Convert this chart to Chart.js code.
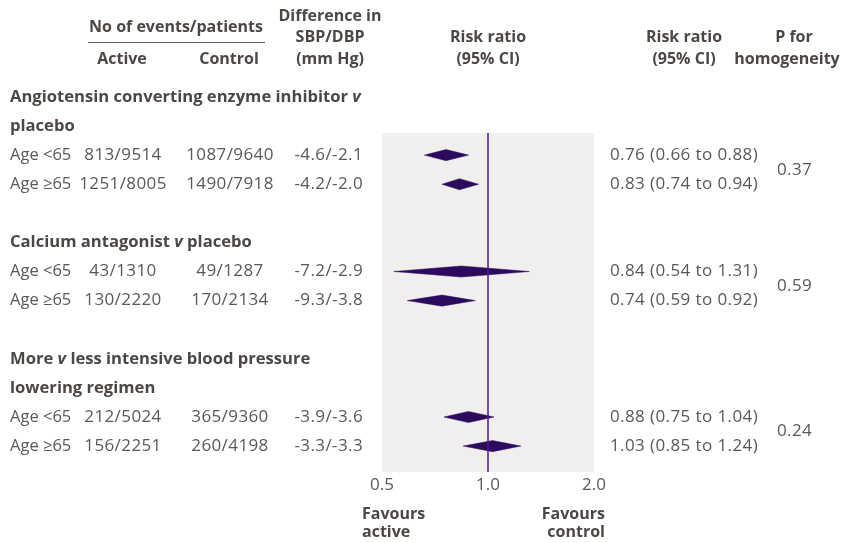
<!DOCTYPE html>
<html><head><meta charset="utf-8">
<script src="https://cdn.jsdelivr.net/npm/chart.js@4"></script>
<style>html,body{margin:0;padding:0;background:#fff}#wrap{width:849px;height:543px;position:relative}</style>
</head><body><div id="wrap"><canvas id="c" width="849" height="543"></canvas></div>
<script>
// ---------- data ----------
const groupTitles = [
  ["Angiotensin converting enzyme inhibitor v", "placebo"],
  ["Calcium antagonist v placebo"],
  ["More v less intensive blood pressure", "lowering regimen"]
];
const subgroups = ["Age <65", "Age ≥65"];
const activeEvents = ["813/9514", "1251/8005", "43/1310", "130/2220", "212/5024", "156/2251"];
const controlEvents = ["1087/9640", "1490/7918", "49/1287", "170/2134", "365/9360", "260/4198"];
const bpDiff = ["-4.6/-2.1", "-4.2/-2.0", "-7.2/-2.9", "-9.3/-3.8", "-3.9/-3.6", "-3.3/-3.3"];
const riskRatio = [0.76, 0.83, 0.84, 0.74, 0.88, 1.03];
const ciLow = [0.66, 0.74, 0.54, 0.59, 0.75, 0.85];
const ciHigh = [0.88, 0.94, 1.31, 0.92, 1.04, 1.24];
const pHomogeneity = ["0.37", "0.59", "0.24"];
const xTicks = [0.5, 1.0, 2.0];

// ---------- layout (row indices derived from group structure) ----------
const titleRows = [];
const dataRows = [];
let r = 0;
groupTitles.forEach((lines) => {
  titleRows.push(lines.map(() => r++));
  subgroups.forEach(() => dataRows.push(r++));
  r++;
});
const Y_MIN = 1.24, Y_MAX = 12.89;
const DIAMOND_HALF = 0.19; // in row units

const PURPLE = '#2c0b5e';
const LINE = '#4a1c80';
const TXT = '#5b5856';
const HEAD = '#4c4745';
const FONT = '"Open Sans", "Noto Sans", sans-serif';

const datasets = riskRatio.map((rr, i) => ({
  data: [
    {x: ciLow[i], y: dataRows[i]},
    {x: rr, y: dataRows[i] - DIAMOND_HALF},
    {x: ciHigh[i], y: dataRows[i]},
    {x: rr, y: dataRows[i] + DIAMOND_HALF},
    {x: ciLow[i], y: dataRows[i]}
  ],
  showLine: true, fill: 'shape', tension: 0,
  backgroundColor: PURPLE, borderColor: PURPLE, borderWidth: 0.5,
  pointRadius: 0, pointHoverRadius: 0, order: 2
}));
datasets.push({
  data: [{x: 1, y: Y_MIN}, {x: 1, y: Y_MAX}],
  showLine: true, fill: false, borderColor: LINE, borderWidth: 1.5,
  pointRadius: 0, pointHoverRadius: 0, order: 1
});

const bgPlugin = {
  id: 'bg',
  beforeDatasetsDraw(chart) {
    const {ctx, chartArea: a} = chart;
    ctx.save();
    ctx.fillStyle = '#f0efee';
    ctx.fillRect(a.left, a.top, a.right - a.left, a.bottom - a.top);
    ctx.restore();
  }
};

function font(bold, italic, size) {
  return `${italic ? 'italic ' : ''}${bold ? '700' : '400'} ${size}px ${FONT}`;
}
function text(ctx, s, x, y, opt = {}) {
  ctx.font = font(opt.bold, opt.italic, opt.size || 17);
  ctx.letterSpacing = (opt.ls !== undefined ? opt.ls : (opt.bold ? 0 : 0.4)) + 'px';
  ctx.fillStyle = opt.color || TXT;
  ctx.textAlign = opt.align || 'left';
  ctx.textBaseline = 'middle';
  ctx.fillText(s, x, y);
  ctx.letterSpacing = '0px';
}
function boldTitle(ctx, s, x, y) {
  const words = s.split(' ');
  let cx = x;
  const size = 16.6;
  ctx.textAlign = 'left'; ctx.textBaseline = 'middle'; ctx.fillStyle = HEAD;
  ctx.letterSpacing = '0px';
  words.forEach((w) => {
    ctx.font = font(true, w === 'v', size);
    ctx.fillText(w, cx, y);
    cx += ctx.measureText(w).width;
    ctx.font = font(true, false, size);
    cx += ctx.measureText(' ').width;
  });
}

const textPlugin = {
  id: 'texts',
  afterDraw(chart) {
    const {ctx} = chart;
    const ys = chart.scales.y;
    const py = v => ys.getPixelForValue(v);
    ctx.save();
    const H = {bold: true, color: HEAD, align: 'center', size: 16};
    text(ctx, 'No of events/patients', 176, 27, H);
    ctx.strokeStyle = TXT; ctx.lineWidth = 1;
    ctx.beginPath(); ctx.moveTo(88, 42.5); ctx.lineTo(265, 42.5); ctx.stroke();
    text(ctx, 'Active', 122, 59, H);
    text(ctx, 'Control', 229, 59, H);
    text(ctx, 'Difference in', 330, 16, H);
    text(ctx, 'SBP/DBP', 330, 37, H);
    text(ctx, '(mm Hg)', 330, 59, H);
    text(ctx, 'Risk ratio', 488, 37, H);
    text(ctx, '(95% CI)', 488, 59, H);
    text(ctx, 'Risk ratio', 684, 37, H);
    text(ctx, '(95% CI)', 684, 59, H);
    text(ctx, 'P for', 794, 37, H);
    text(ctx, 'homogeneity', 787, 59, H);
    groupTitles.forEach((lines, g) => {
      lines.forEach((l, k) => boldTitle(ctx, l, 10, py(titleRows[g][k])));
    });
    dataRows.forEach((row, i) => {
      const y = py(row);
      text(ctx, subgroups[i % subgroups.length], 10, y, {size: 16.5, ls: 0});
      text(ctx, activeEvents[i], 123, y, {align: 'center'});
      text(ctx, controlEvents[i], 230, y, {align: 'center'});
      text(ctx, bpDiff[i], 363, y, {align: 'right'});
      text(ctx, `${riskRatio[i].toFixed(2)} (${ciLow[i].toFixed(2)} to ${ciHigh[i].toFixed(2)})`, 610, y);
    });
    pHomogeneity.forEach((p, g) => {
      const y = (py(dataRows[2 * g]) + py(dataRows[2 * g + 1])) / 2;
      text(ctx, p, 777, y);
    });
    const F = {bold: true, color: HEAD, size: 16};
    text(ctx, 'Favours', 362, 514, F);
    text(ctx, 'active', 362, 532, F);
    text(ctx, 'Favours', 605, 514, Object.assign({align: 'right'}, F));
    text(ctx, 'control', 605, 532, Object.assign({align: 'right'}, F));
    ctx.restore();
  }
};

new Chart(document.getElementById('c'), {
  type: 'scatter',
  data: {datasets},
  options: {
    responsive: false,
    animation: false,
    events: [],
    layout: {padding: {left: 382, right: 255, top: 133, bottom: 41}},
    plugins: {legend: {display: false}, tooltip: {enabled: false}},
    scales: {
      x: {
        type: 'logarithmic', min: 0.5, max: 2,
        grid: {display: false, drawTicks: false}, border: {display: false},
        afterBuildTicks: s => { s.ticks = xTicks.map(v => ({value: v})); },
        afterFit: s => { s.height = 30; },
        ticks: {
          padding: 3, color: TXT, maxRotation: 0, autoSkip: false,
          font: {family: FONT, size: 17},
          callback: v => Number(v).toFixed(1)
        }
      },
      y: {type: 'linear', min: Y_MIN, max: Y_MAX, reverse: true, display: false}
    }
  },
  plugins: [bgPlugin, textPlugin]
});
</script></body></html>
